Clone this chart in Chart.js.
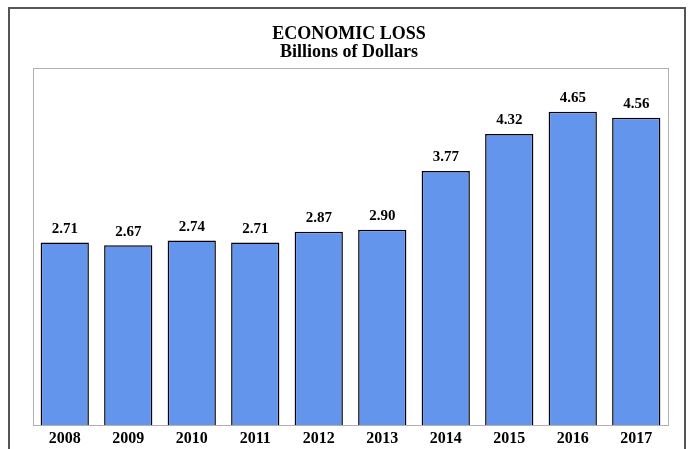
<!DOCTYPE html>
<html>
<head>
<meta charset="utf-8">
<script src="https://cdn.jsdelivr.net/npm/chart.js@4.4.0/dist/chart.umd.min.js"></script>
<style>
  html, body { margin: 0; padding: 0; background: #fff; overflow: hidden; }
  #wrap { position: relative; width: 689px; height: 449px; }
  #frame { position: absolute; left: 8px; top: 7px; width: 674px; height: 470px; border: 2px solid #555; }
  canvas { position: absolute; left: 0; top: 0; }
</style>
</head>
<body>
<div id="wrap">
  <div id="frame"></div>
  <canvas id="lossChart" width="689" height="449"></canvas>
</div>
<script>
const years = ['2008', '2009', '2010', '2011', '2012', '2013', '2014', '2015', '2016', '2017'];
const lossValues = [2.71, 2.67, 2.74, 2.71, 2.87, 2.90, 3.77, 4.32, 4.65, 4.56];
const titleLines = ['ECONOMIC LOSS', 'Billions of Dollars'];

const serif = '"Liberation Serif", "Times New Roman", serif';

// plot box, title and value labels
const decorPlugin = {
    id: 'decor',
    beforeDatasetsDraw(chart) {
        const { ctx, chartArea: a } = chart;
        ctx.save();
        ctx.strokeStyle = '#b0b0b0';
        ctx.lineWidth = 1;
        ctx.strokeRect(a.left + 0.5, a.top + 0.5, a.right - a.left, a.bottom - a.top);
        ctx.restore();
    },
    afterDatasetsDraw(chart) {
        const { ctx } = chart;
        ctx.save();
        ctx.fillStyle = '#000';
        ctx.textAlign = 'center';
        ctx.font = 'bold 18px ' + serif;
        ctx.textBaseline = 'middle';
        ctx.fillText(titleLines[0], 349, 34);
        ctx.fillText(titleLines[1], 349, 52.5);

        ctx.font = 'bold 15px ' + serif;
        ctx.textBaseline = 'bottom';
        const meta = chart.getDatasetMeta(0);
        meta.data.forEach((bar, i) => {
            ctx.fillText(lossValues[i].toFixed(2), bar.x, bar.y - 6);
        });
        ctx.restore();
    }
};

new Chart(document.getElementById('lossChart'), {
    type: 'bar',
    data: {
        labels: years,
        datasets: [{
            data: lossValues,
            backgroundColor: '#6495ed',
            borderColor: '#000',
            borderWidth: 1.5,
            borderSkipped: 'bottom',
            categoryPercentage: 1,
            barPercentage: 0.76
        }]
    },
    options: {
        responsive: false,
        animation: false,
        layout: { padding: { left: 33, right: 21, top: 68, bottom: 0 } },
        plugins: { legend: { display: false }, title: { display: false }, tooltip: { enabled: false } },
        scales: {
            x: {
                grid: { display: false, drawTicks: false },
                border: { display: false },
                ticks: { color: '#000', padding: 4, font: { family: serif, size: 16, weight: 'bold' } },
                afterFit(scale) { scale.height = 24; }
            },
            y: {
                display: false,
                min: 0,
                max: 5.3
            }
        }
    },
    plugins: [decorPlugin]
});
</script>
</body>
</html>
